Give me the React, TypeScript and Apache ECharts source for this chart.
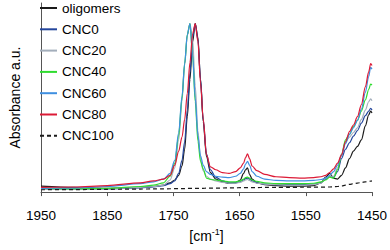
import { useEffect, useRef } from "react";
import * as echarts from "echarts";

const wavenumbers = [1950, 1900, 1850, 1800, 1780, 1765, 1755, 1748, 1742, 1737, 1733, 1729, 1725, 1721, 1717, 1713, 1709, 1705, 1700, 1694, 1686, 1676, 1666, 1656, 1649, 1644, 1641, 1638, 1635, 1631, 1624, 1612, 1595, 1575, 1555, 1538, 1527, 1520, 1514, 1508, 1502, 1496, 1490, 1484, 1478, 1472, 1466, 1460, 1455, 1452, 1450];

const oligomers = [0.065, 0.05, 0.04, 0.05, 0.06, 0.075, 0.1, 0.13, 0.18, 0.28, 0.46, 0.81, 1.21, 1.61, 1.81, 1.66, 1.21, 0.76, 0.38, 0.21, 0.14, 0.11, 0.095, 0.1, 0.13, 0.2, 0.24, 0.26, 0.19, 0.14, 0.1, 0.08, 0.07, 0.065, 0.065, 0.07, 0.1, 0.16, 0.2, 0.15, 0.14, 0.18, 0.26, 0.36, 0.44, 0.49, 0.56, 0.71, 0.83, 0.87, 0.85];
const cnc0 = [0.04, 0.035, 0.035, 0.045, 0.055, 0.07, 0.09, 0.12, 0.2, 0.34, 0.54, 0.88, 1.28, 1.66, 1.81, 1.64, 1.21, 0.78, 0.41, 0.24, 0.16, 0.12, 0.1, 0.1, 0.11, 0.13, 0.145, 0.15, 0.14, 0.12, 0.1, 0.085, 0.08, 0.08, 0.08, 0.085, 0.1, 0.14, 0.17, 0.16, 0.22, 0.36, 0.46, 0.53, 0.6, 0.66, 0.74, 0.82, 0.87, 0.9, 0.88];
const cnc20 = [0.03, 0.03, 0.035, 0.05, 0.06, 0.075, 0.13, 0.26, 0.56, 0.98, 1.36, 1.68, 1.81, 1.64, 1.14, 0.66, 0.36, 0.23, 0.17, 0.14, 0.12, 0.105, 0.095, 0.095, 0.105, 0.12, 0.13, 0.135, 0.125, 0.11, 0.095, 0.085, 0.08, 0.075, 0.075, 0.08, 0.095, 0.15, 0.17, 0.17, 0.26, 0.41, 0.54, 0.59, 0.64, 0.69, 0.78, 0.88, 0.97, 1.0, 0.98];
const cnc40 = [0.04, 0.035, 0.04, 0.06, 0.075, 0.1, 0.17, 0.31, 0.61, 1.01, 1.38, 1.69, 1.81, 1.47, 0.97, 0.55, 0.33, 0.25, 0.15, 0.135, 0.13, 0.12, 0.11, 0.11, 0.12, 0.14, 0.155, 0.16, 0.15, 0.13, 0.115, 0.1, 0.09, 0.09, 0.09, 0.095, 0.11, 0.13, 0.16, 0.15, 0.24, 0.4, 0.56, 0.62, 0.7, 0.77, 0.87, 0.99, 1.1, 1.16, 1.15];
const cnc60 = [0.04, 0.045, 0.06, 0.09, 0.11, 0.14, 0.2, 0.34, 0.64, 1.03, 1.38, 1.69, 1.81, 1.48, 1.01, 0.61, 0.39, 0.29, 0.22, 0.19, 0.17, 0.16, 0.155, 0.17, 0.2, 0.25, 0.3, 0.33, 0.29, 0.22, 0.17, 0.14, 0.125, 0.12, 0.12, 0.125, 0.135, 0.15, 0.18, 0.22, 0.29, 0.39, 0.52, 0.62, 0.69, 0.77, 0.89, 1.07, 1.24, 1.34, 1.32];
const cnc80 = [0.05, 0.055, 0.07, 0.1, 0.12, 0.14, 0.18, 0.29, 0.44, 0.59, 0.78, 1.06, 1.39, 1.7, 1.81, 1.62, 1.17, 0.79, 0.4, 0.27, 0.24, 0.21, 0.2, 0.22, 0.26, 0.31, 0.37, 0.41, 0.36, 0.28, 0.23, 0.19, 0.165, 0.155, 0.15, 0.155, 0.165, 0.18, 0.21, 0.25, 0.31, 0.4, 0.54, 0.65, 0.72, 0.81, 0.94, 1.13, 1.29, 1.38, 1.36];
const cnc100 = [0.025, 0.027, 0.03, 0.033, 0.034, 0.035, 0.036, 0.037, 0.037, 0.038, 0.038, 0.039, 0.039, 0.04, 0.04, 0.04, 0.041, 0.041, 0.042, 0.042, 0.043, 0.044, 0.045, 0.046, 0.047, 0.047, 0.047, 0.048, 0.048, 0.048, 0.049, 0.05, 0.05, 0.051, 0.052, 0.053, 0.053, 0.054, 0.055, 0.057, 0.06, 0.065, 0.075, 0.083, 0.09, 0.097, 0.103, 0.11, 0.115, 0.118, 0.12];

const seriesNames = ["oligomers", "CNC0", "CNC20", "CNC40", "CNC60", "CNC80", "CNC100"];
const seriesValues = [oligomers, cnc0, cnc20, cnc40, cnc60, cnc80, cnc100];
const seriesColors = ["#1a1a1a", "#24469c", "#a3aebb", "#2fdc2f", "#3f8fe0", "#dc1a36", "#1a1a1a"];

const FONT = "Liberation Sans, Arial, sans-serif";

export default function App() {
  const ref = useRef<HTMLDivElement>(null);
  useEffect(() => {
    const chart = echarts.init(ref.current!, null, { renderer: "svg" });
    chart.setOption({
      animation: false,
      backgroundColor: "#fff",
      textStyle: { fontFamily: FONT },
      grid: { left: 32, right: 17, top: 3, bottom: 44, containLabel: false },
      legend: {
        orient: "vertical",
        left: 39,
        top: 1,
        padding: 0,
        itemWidth: 17,
        itemHeight: 14,
        itemGap: 7.3,
        itemStyle: { opacity: 0 },
        textStyle: { fontSize: 13.5, color: "#000", fontFamily: FONT, lineHeight: 14 },
        data: seriesNames,
      },
      xAxis: {
        type: "value",
        min: 1450,
        max: 1950,
        interval: 100,
        inverse: true,
        name: "[cm{sup|-1}]",
        nameLocation: "middle",
        nameGap: 29,
        nameTextStyle: {
          fontSize: 14,
          color: "#000",
          fontFamily: FONT,
          lineHeight: 18,
          rich: {
            sup: { fontSize: 9, color: "#000", fontFamily: FONT, verticalAlign: "top", lineHeight: 10 },
          },
        },
        axisLine: { show: true, lineStyle: { color: "#555", width: 1 } },
        axisTick: { show: true, length: 4, lineStyle: { color: "#555" } },
        axisLabel: {
          fontSize: 13.5,
          color: "#000",
          margin: 16,
          fontFamily: FONT,
          formatter: (v: number) => String(v),
        },
        splitLine: { show: false },
      },
      yAxis: {
        type: "value",
        min: 0,
        max: 2.03,
        name: "Absorbance a.u.",
        nameLocation: "middle",
        nameGap: 19,
        nameTextStyle: { fontSize: 14, color: "#000", fontFamily: FONT },
        axisLine: { show: true, lineStyle: { color: "#555", width: 1 } },
        axisTick: { show: false },
        axisLabel: { show: false },
        splitLine: { show: false },
      },
      series: seriesNames.map((name, k) => ({
        name,
        type: "line",
        symbol: "none",
        smooth: 0.3,
        smoothMonotone: "x",
        color: seriesColors[k],
        lineStyle: {
          color: seriesColors[k],
          width: 1.2,
          type: name === "CNC100" ? [4, 3] : "solid",
        },
        data: wavenumbers.map((w, i) => [w, seriesValues[k][i]]),
      })),
    });
    return () => chart.dispose();
  }, []);
  return <div ref={ref} style={{ position: "fixed", left: 0, top: 0, width: 390, height: 250 }} />;
}
